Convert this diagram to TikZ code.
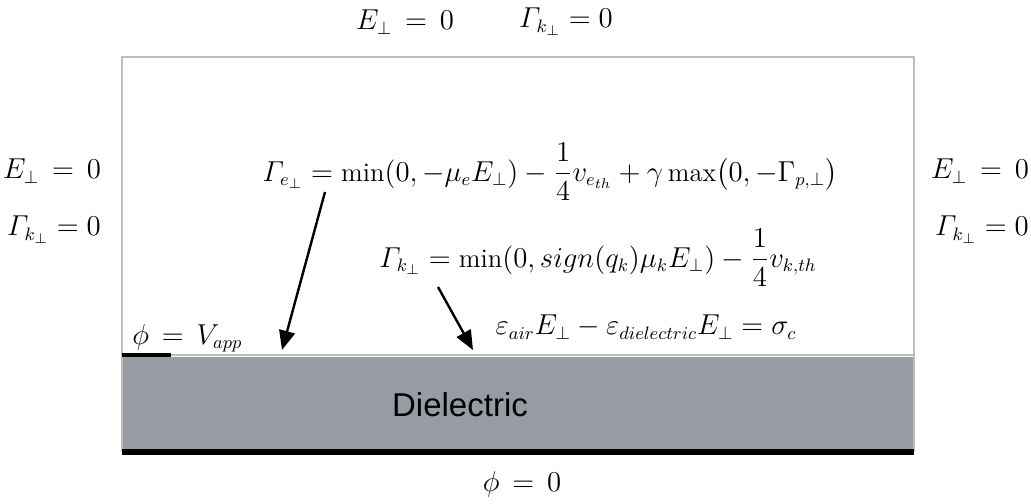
\documentclass[tikz,border=0pt]{standalone}
\usepackage{amsmath,amssymb}
\usepackage{fontspec}
\newfontfamily\labelfont{Liberation Sans}
\usetikzlibrary{arrows.meta,positioning}
\definecolor{dielgray}{HTML}{969BA4}
\definecolor{wallgray}{HTML}{BDBDBD}
\newcommand{\Gflux}{\mathnormal{\Gamma}}

\begin{document}
\begin{tikzpicture}[
        x=0.5pt, y=-0.5pt,
        font=\fontsize{13.3}{15}\selectfont,
        bc/.style={inner sep=1pt, anchor=center},
        wall/.style={draw=wallgray, line width=1pt},
        flux/.style={-{Triangle[length=3.4mm, width=2.8mm]}, line width=1.2pt}
    ]
        \useasboundingbox (0,0) rectangle (1031,503);

        % Domain and dielectric layer
        \fill[dielgray] (122,357) rectangle (914,452);
        \draw[wall] (122,452) -- (122,57) -- (914,57) -- (914,452);
        \draw[wallgray, line width=1pt] (122,355) -- (914,355);
        \draw[black, line width=1.6pt] (122,355) -- (171,355);
        \draw[black, line width=2.6pt] (122,452) -- (914,452);
        \node[font=\labelfont\fontsize{16.5}{20}\selectfont] (diel) at (460,405)
            {Dielectric};

        % Boundary conditions on the outer walls
        \node[bc] (topE) at (405,22) {$E_{\perp}\,=\,0$};
        \node[bc] (topG) at (566,22) {$\Gflux_{k_{\perp}}=0$};
        \node[bc] (leftE) at (52,171) {$E_{\perp}\,=\,0$};
        \node[bc] (leftG) at (54,230) {$\Gflux_{k_{\perp}}=0$};
        \node[bc] (rightE) at (980,171) {$E_{\perp}\,=\,0$};
        \node[bc] (rightG) at (982,230) {$\Gflux_{k_{\perp}}=0$};
        \node[bc] (ground) at (522,484) {$\phi\,=\,0$};
        \node[bc, anchor=west] (vapp) at (130,338) {$\phi\,=\,V_{app}$};

        % Surface fluxes and charge balance
        \node[bc] (eflux) at (550,172)
            {$\displaystyle \Gflux_{e_{\perp}}=\min(0,-\mu_e E_{\perp})
            -\frac{1}{4}v_{e_{th}}+\gamma\max\bigl(0,-\Gamma_{p,\perp}\bigr)$};
        \node[bc] (kflux) at (598,258)
            {$\displaystyle \Gflux_{k_{\perp}}=\min(0,sign(q_k)\mu_k E_{\perp})
            -\frac{1}{4}v_{k,th}$};
        \node[bc] (charge) at (646,327)
            {$\varepsilon_{air}E_{\perp}-\varepsilon_{dielectric}E_{\perp}=\sigma_c$};

        \coordinate (ehit) at (282,350);
        \coordinate (khit) at (473,350);
        \draw[flux] (325,192) -- (ehit);
        \draw[flux] (438,287) -- (khit);
    \end{tikzpicture}
\end{document}
